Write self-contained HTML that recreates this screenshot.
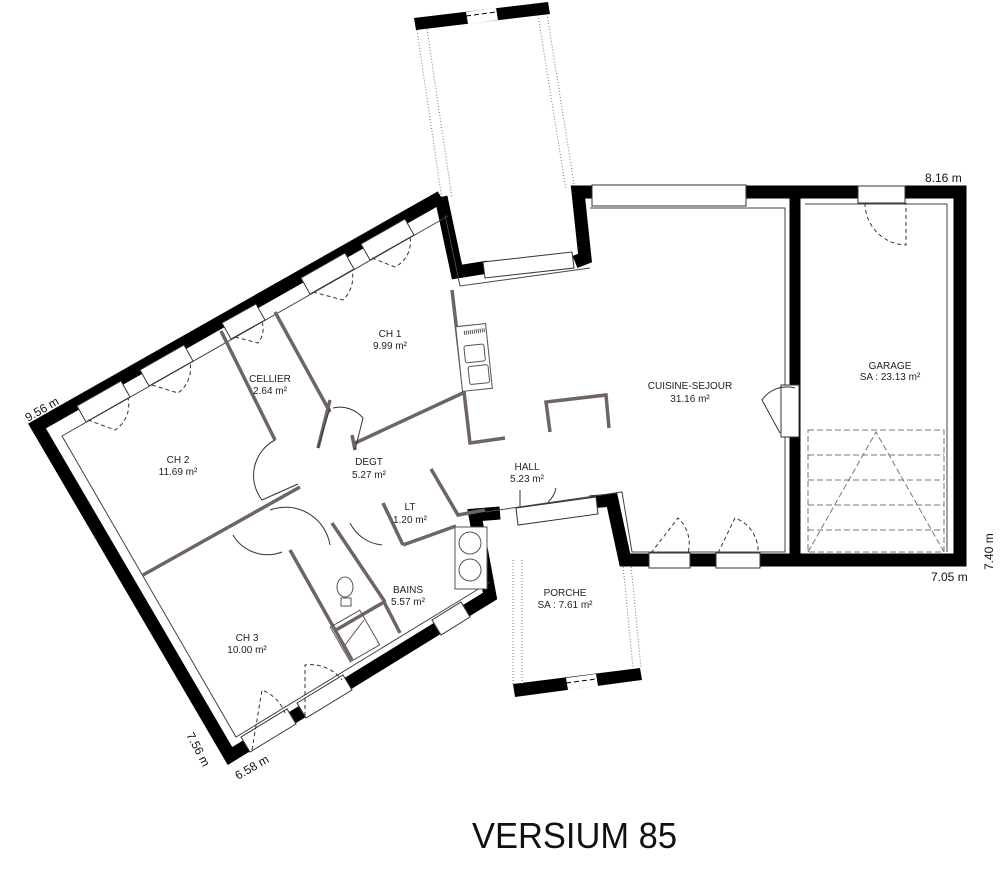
<!DOCTYPE html>
<html><head><meta charset="utf-8"><style>
html,body{margin:0;padding:0;background:#fff;}
svg{display:block;font-family:"Liberation Sans",sans-serif;}
</style></head><body>
<svg width="1000" height="874" viewBox="0 0 1000 874" xmlns="http://www.w3.org/2000/svg">
<polygon points="414,18 548,2 550,14 416,30" fill="#000"/>
<polygon points="466,12 496,8 498,20 468,24" fill="#fff"/>
<line x1="466" y1="16" x2="496" y2="12" stroke="#000" stroke-dasharray="5,3" stroke-width="1"/>
<g stroke="#777" stroke-width="1" stroke-dasharray="1,2" fill="none">
<line x1="417" y1="30" x2="442" y2="200"/><line x1="427" y1="29" x2="452" y2="198"/>
<line x1="538" y1="15" x2="566" y2="190"/><line x1="547" y1="14" x2="575" y2="190"/>
</g>
<polygon points="513,684 640,668 642,680 515,697" fill="#000"/>
<polygon points="566,678 596,674 598,686 568,690" fill="#fff"/>
<line x1="566" y1="683" x2="596" y2="679" stroke="#000" stroke-dasharray="5,3"/>
<g stroke="#777" stroke-width="1" stroke-dasharray="1,2" fill="none">
<line x1="513" y1="560" x2="513" y2="684"/><line x1="522" y1="560" x2="522" y2="684"/>
<line x1="622" y1="555" x2="633" y2="668"/><line x1="630" y1="555" x2="641" y2="668"/>
</g>
<g fill="none" stroke="#000" stroke-width="13" stroke-linejoin="miter">
<polyline points="441,197 37,426 230,756 490,596 475,515 500,513"/>
<polyline points="441,197 457,272 488,267"/>
<polyline points="575,262 585,258 578,192 960,192 960,560 625,560 612,500 590,502"/>
</g>
<line x1="795" y1="192" x2="795" y2="555" stroke="#000" stroke-width="11"/>
<g fill="none" stroke="#444" stroke-width="1">
<polyline points="448,216 62,436 236,737 490,582"/>
<polyline points="445,215 460,286 590,268"/>
<polyline points="590,208 785,208 785,552 632,552 622,492 485,512"/>
<polyline points="805,204 947,204 947,552"/>
</g>
<g fill="#fff" stroke="#333" stroke-width="1">
<polygon points="77,406 121,381 130,397 86,422"/>
<polygon points="140,370 184,345 193,361 149,386"/>
<polygon points="222,323 256,304 265,320 231,339"/>
<polygon points="301,278 345,253 354,269 310,294"/>
<polygon points="361,244 405,219 414,235 370,260"/>
<polygon points="241,737 287,709 296,724 250,752"/>
<polygon points="297,703 343,675 352,690 306,718"/>
<polygon points="432,620 461,602 470,617 441,635"/>
<polygon points="483,262 572,252 574,268 485,278"/>
<polygon points="592,185 746,185 746,206 592,206"/>
<polygon points="858,186 905,186 905,203 858,203"/>
<polygon points="649,553 690,553 690,568 649,568"/>
<polygon points="716,553 760,553 760,568 716,568"/>
<polygon points="516,508 596,497 598,514 518,525"/>
<polygon points="781,385 799,385 799,437 781,437"/>
</g>
<g fill="none" stroke="#333" stroke-width="1" stroke-dasharray="4,3">
<path d="M88,420 L115,430 A30,30 0 0 0 128,398"/>
<path d="M152,385 L178,393 A30,30 0 0 0 190,363"/>
<path d="M235,337 L258,343 A22,22 0 0 0 262,322"/>
<path d="M313,292 L343,300 A32,32 0 0 0 352,270"/>
<path d="M372,258 L395,267 A28,28 0 0 0 410,237"/>
<path d="M252,750 L262,690 A40,40 0 0 1 285,713"/>
<path d="M305,716 L305,665 A40,40 0 0 1 342,680"/>
<path d="M651,553 L678,518 A35,35 0 0 1 688,553"/>
<path d="M718,553 L735,518 A35,35 0 0 1 758,553"/>
<path d="M865,203 A42,42 0 0 0 906,245 L906,203"/>
</g>
<g fill="none" stroke="#777" stroke-width="1" stroke-dasharray="6,3">
<path d="M808,430 H944 V552 H808 Z"/>
<path d="M808,455 H944 M808,480 H944 M808,505 H944 M808,530 H944"/>
<path d="M808,552 L876,432 L944,552"/>
</g>
<g fill="none" stroke="#6e6466" stroke-width="3.5" stroke-linecap="butt">
<line x1="221" y1="331" x2="275" y2="440"/>
<line x1="275" y1="312" x2="330" y2="412"/>
<line x1="353" y1="444" x2="465" y2="392"/>
<polyline points="452,290 470,443 505,438"/>
<polyline points="550,432 546,402 606,395 609,428"/>
<line x1="143" y1="575" x2="300" y2="487"/>
<line x1="290" y1="550" x2="352" y2="660"/>
<line x1="332" y1="523" x2="385" y2="602"/>
<polyline points="336,630 384,602 400,633"/>
<line x1="383" y1="503" x2="403" y2="545"/>
<polyline points="403,545 456,526"/>
<polyline points="431,469 458,515 485,510"/>
<line x1="330" y1="400" x2="318" y2="448"/>
<line x1="352" y1="435" x2="355" y2="450"/>
</g>
<g fill="none" stroke="#333" stroke-width="1">
<path d="M275,440 A40,40 0 0 0 262,500 L298,484"/>
<path d="M333,408 A30,30 0 0 1 363,418 L355,450"/>
<path d="M318,448 L330,408"/>
<path d="M233,535 A40,40 0 0 0 282,552"/>
<path d="M270,510 A45,45 0 0 1 330,545"/>
<path d="M350,523 A40,40 0 0 0 382,545"/>
<path d="M556,488 A25,25 0 0 1 548,502"/>
<path d="M795,388 A30,30 0 0 0 762,400 L780,433"/>
<path d="M520,490 L520,508"/>
</g>
<g fill="none" stroke="#555" stroke-width="1">
<rect x="459" y="325" width="30" height="65" transform="rotate(-6 474 357)" fill="#fff"/>
<rect x="465" y="345" width="20" height="17" rx="2" transform="rotate(-6 474 357)"/>
<rect x="467" y="366" width="20" height="18" rx="2" transform="rotate(-6 474 357)"/>
<line x1="464" y1="333" x2="485" y2="330" stroke-width="4" stroke-dasharray="1,1"/>
<rect x="455" y="527" width="32" height="62" fill="#fff"/>
<circle cx="470" cy="543" r="11"/><circle cx="470" cy="570" r="11"/>
<ellipse cx="345" cy="587" rx="8" ry="10"/>
<rect x="341" y="598" width="10" height="8"/>
<rect x="338" y="616" width="34" height="40" transform="rotate(-30 355 636)"/>
<line x1="345" y1="645" x2="364" y2="620"/>
</g>
<g font-size="10" fill="#222" text-anchor="middle">
<text x="390" y="337">CH 1</text><text x="390" y="349">9.99 m²</text>
<text x="270" y="382">CELLIER</text><text x="270" y="394">2.64 m²</text>
<text x="178" y="463">CH 2</text><text x="178" y="475">11.69 m²</text>
<text x="369" y="465">DEGT</text><text x="369" y="478">5.27 m²</text>
<text x="410" y="510">LT</text><text x="410" y="523">1.20 m²</text>
<text x="527" y="470">HALL</text><text x="527" y="482">5.23 m²</text>
<text x="408" y="593">BAINS</text><text x="408" y="605">5.57 m²</text>
<text x="247" y="641">CH 3</text><text x="247" y="653">10.00 m²</text>
<text x="565" y="596">PORCHE</text><text x="565" y="608">SA : 7.61 m²</text>
<text x="690" y="389">CUISINE-SEJOUR</text><text x="690" y="402">31.16 m²</text>
<text x="890" y="369">GARAGE</text><text x="890" y="380">SA : 23.13 m²</text>
</g>
<g font-size="12" fill="#111">
<text x="925" y="182">8.16 m</text>
<text x="931" y="581">7.05 m</text>
<text transform="translate(993,570) rotate(-90)">7.40 m</text>
<text transform="translate(28,422) rotate(-30)">9.56 m</text>
<text transform="translate(238,780) rotate(-30)">6.58 m</text>
<text transform="translate(186,735) rotate(62)">7.56 m</text>
</g>
<text x="472" y="848" font-size="36" fill="#111" textLength="205" lengthAdjust="spacingAndGlyphs">VERSIUM 85</text>
</svg>
</body></html>
